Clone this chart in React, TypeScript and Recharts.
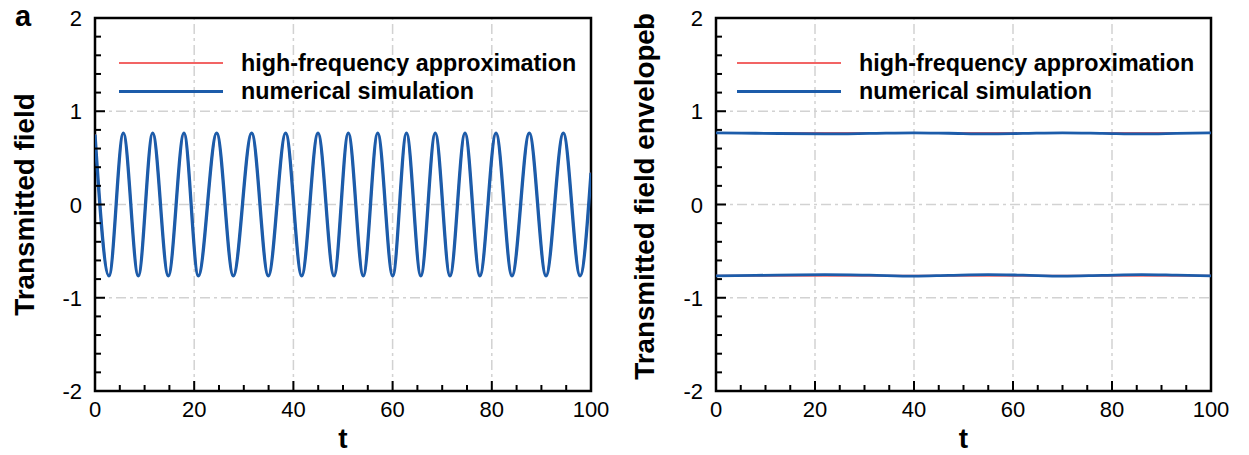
import React from "react";
import {
  LineChart,
  Line,
  XAxis,
  YAxis,
  ReferenceLine,
  ReferenceArea,
  Legend,
  Label,
} from "recharts";

const FONT = '"Liberation Sans", Arial, Helvetica, sans-serif';
const RED = "#f26464";
const BLUE = "#1c5caa";

// panel a: peaks / troughs of the transmitted field
const fieldT = [
  0, 2.82, 5.71, 8.73, 11.63, 14.78, 17.94, 20.83, 24.54, 27.88, 31.59, 34.94,
  38.45, 41.67, 44.96, 48.19, 51.07, 54.09, 57.0, 60.02, 62.8, 65.69, 68.6,
  71.57, 74.6, 77.6, 80.85, 84.07, 87.56, 90.93, 94.42, 97.8, 100,
];
const fieldSim = [
  0.75, -0.765, 0.765, -0.765, 0.765, -0.765, 0.765, -0.765, 0.765, -0.765,
  0.765, -0.765, 0.765, -0.765, 0.765, -0.765, 0.765, -0.765, 0.765, -0.765,
  0.765, -0.765, 0.765, -0.765, 0.765, -0.765, 0.765, -0.765, 0.765, -0.765,
  0.765, -0.765, 0.34,
];
// the approximation sits right under the simulation
const fieldApprox = fieldSim;

// panel b: envelopes
const envT = [0, 8, 22, 31, 40, 47, 55, 62, 70, 78, 86, 93, 100];
const envSimUpper = [
  0.768, 0.764, 0.757, 0.762, 0.769, 0.764, 0.757, 0.762, 0.768, 0.763, 0.757,
  0.762, 0.768,
];
const envSimLower = [
  -0.765, -0.76, -0.752, -0.758, -0.768, -0.76, -0.752, -0.758, -0.768, -0.76,
  -0.752, -0.758, -0.765,
];
const envApproxT = [0, 100];
const envApproxUpper = [0.768, 0.768];
const envApproxLower = [-0.764, -0.764];

const xTicks = [
  0, 5, 10, 15, 20, 25, 30, 35, 40, 45, 50, 55, 60, 65, 70, 75, 80, 85, 90, 95, 100,
];
const yTicks = [
  -2, -1.8, -1.6, -1.4, -1.2, -1, -0.8, -0.6, -0.4, -0.2, 0, 0.2, 0.4, 0.6, 0.8,
  1, 1.2, 1.4, 1.6, 1.8, 2,
];
const xGrid = [20, 40, 60, 80];
const yGrid = [-1, 0, 1];
const legendNames = ["high-frequency approximation", "numerical simulation"];
const legendColors = [RED, BLUE];

type Row = { t: number; v: number };
type Series = { id: string; rows: Row[]; color: string; width: number };

const toRows = (ts: number[], vs: number[]): Row[] =>
  ts.map((t, i) => ({ t, v: vs[i] }));

function XTick(props: any) {
  const { x, y, payload } = props;
  const major = payload.value % 20 === 0;
  return (
    <g>
      <line x1={x} x2={x} y1={y} y2={y - (major ? 10 : 6)} stroke="#000" strokeWidth={2} />
      {major && (
        <text x={x} y={y + 26} textAnchor="middle" fontSize={22} fontFamily={FONT} fill="#000">
          {payload.value}
        </text>
      )}
    </g>
  );
}

function YTick(props: any) {
  const { x, y, payload } = props;
  const major = Math.abs(payload.value - Math.round(payload.value)) < 1e-6;
  return (
    <g>
      <line x1={x} x2={x + (major ? 10 : 6)} y1={y} y2={y} stroke="#000" strokeWidth={2} />
      {major && (
        <text x={x - 13} y={y + 8} textAnchor="end" fontSize={22} fontFamily={FONT} fill="#000">
          {Math.round(payload.value)}
        </text>
      )}
    </g>
  );
}

function LegendBox() {
  return (
    <div style={{ fontFamily: FONT }}>
      {legendNames.map((name, i) => (
        <div key={name} style={{ display: "flex", alignItems: "center", height: 28 }}>
          <div style={{ width: 104, height: i === 0 ? 2 : 3, background: legendColors[i] }} />
          <span style={{ marginLeft: 18, fontSize: 23.3, fontWeight: "bold", color: "#000" }}>
            {name}
          </span>
        </div>
      ))}
    </div>
  );
}

type PanelProps = {
  left: number;
  width: number;
  axisWidth: number;
  right: number;
  yTitle: string;
  letter: string;
  legendLeft: number;
  series: Series[];
};

function Panel({ left, width, axisWidth, right, yTitle, letter, legendLeft, series }: PanelProps) {
  return (
    <div style={{ position: "absolute", left, top: 0 }}>
      <LineChart width={width} height={455} margin={{ top: 18, right, bottom: 0, left: 0 }}>
        <XAxis
          dataKey="t"
          type="number"
          domain={[0, 100]}
          ticks={xTicks}
          interval={0}
          allowDataOverflow
          axisLine={false}
          tickLine={false}
          tickSize={0}
          tickMargin={0}
          height={64}
          tick={(p: any) => <XTick {...p} />}
        >
          <Label
            content={(p: any) => {
              const vb = p.viewBox;
              return (
                <text
                  x={vb.x + vb.width / 2}
                  y={vb.y + 57}
                  textAnchor="middle"
                  fontSize={28}
                  fontWeight="bold"
                  fontFamily={FONT}
                  fill="#000"
                >
                  t
                </text>
              );
            }}
          />
        </XAxis>
        <YAxis
          type="number"
          domain={[-2, 2]}
          ticks={yTicks}
          interval={0}
          allowDataOverflow
          axisLine={false}
          tickLine={false}
          tickSize={0}
          tickMargin={0}
          width={axisWidth}
          tick={(p: any) => <YTick {...p} />}
        >
          <Label
            content={(p: any) => {
              const vb = p.viewBox;
              const cy = vb.y + vb.height / 2;
              const bx = vb.x + 34;
              return (
                <g fontFamily={FONT} fontWeight="bold" fill="#000">
                  <text
                    x={bx}
                    y={cy}
                    textAnchor="middle"
                    fontSize={27.8}
                    transform={`rotate(-90 ${bx} ${cy})`}
                  >
                    {yTitle}
                  </text>
                  {letter === "a" ? (
                    <text x={15} y={26} fontSize={29}>
                      a
                    </text>
                  ) : (
                    <text x={bx} y={30} fontSize={27.8} transform={`rotate(-90 ${bx} 30)`}>
                      b
                    </text>
                  )}
                </g>
              );
            }}
          />
        </YAxis>
        {xGrid.map((x) => (
          <ReferenceLine
            key={"x" + x}
            x={x}
            stroke="#d2d2d2"
            strokeWidth={1.5}
            strokeDasharray="10 4 3 4"
            zIndex={-50}
          />
        ))}
        {yGrid.map((y) => (
          <ReferenceLine
            key={"y" + y}
            y={y}
            stroke="#d2d2d2"
            strokeWidth={1.5}
            strokeDasharray="10 4 3 4"
            zIndex={-50}
          />
        ))}
        <ReferenceArea
          x1={0}
          x2={100}
          y1={-2}
          y2={2}
          fill="none"
          stroke="#000"
          strokeWidth={2.5}
          ifOverflow="visible"
        />
        {series.map((s) => (
          <Line
            key={s.id}
            data={s.rows}
            dataKey="v"
            type="monotone"
            stroke={s.color}
            strokeWidth={s.width}
            dot={false}
            activeDot={false}
            legendType="none"
            isAnimationActive={false}
          />
        ))}
        <Legend
          layout="horizontal"
          verticalAlign="middle"
          align="center"
          wrapperStyle={{ left: legendLeft, top: 49, width: 480 }}
          content={() => <LegendBox />}
        />
      </LineChart>
    </div>
  );
}

export default function App() {
  const seriesA: Series[] = [
    { id: "approx", rows: toRows(fieldT, fieldApprox), color: RED, width: 2 },
    { id: "sim", rows: toRows(fieldT, fieldSim), color: BLUE, width: 3.3 },
  ];
  const seriesB: Series[] = [
    { id: "approxU", rows: toRows(envApproxT, envApproxUpper), color: RED, width: 2 },
    { id: "approxL", rows: toRows(envApproxT, envApproxLower), color: RED, width: 2 },
    { id: "simU", rows: toRows(envT, envSimUpper), color: BLUE, width: 2.8 },
    { id: "simL", rows: toRows(envT, envSimLower), color: BLUE, width: 2.8 },
  ];
  return (
    <div style={{ position: "absolute", left: 0, top: 0, width: 1249, height: 455, background: "#fff" }}>
      <Panel
        left={0}
        width={620}
        axisWidth={95}
        right={29}
        yTitle="Transmitted field"
        letter="a"
        legendLeft={119}
        series={seriesA}
      />
      <Panel
        left={620}
        width={629}
        axisWidth={96}
        right={38}
        yTitle="Transmitted field envelope"
        letter="b"
        legendLeft={117}
        series={seriesB}
      />
    </div>
  );
}
